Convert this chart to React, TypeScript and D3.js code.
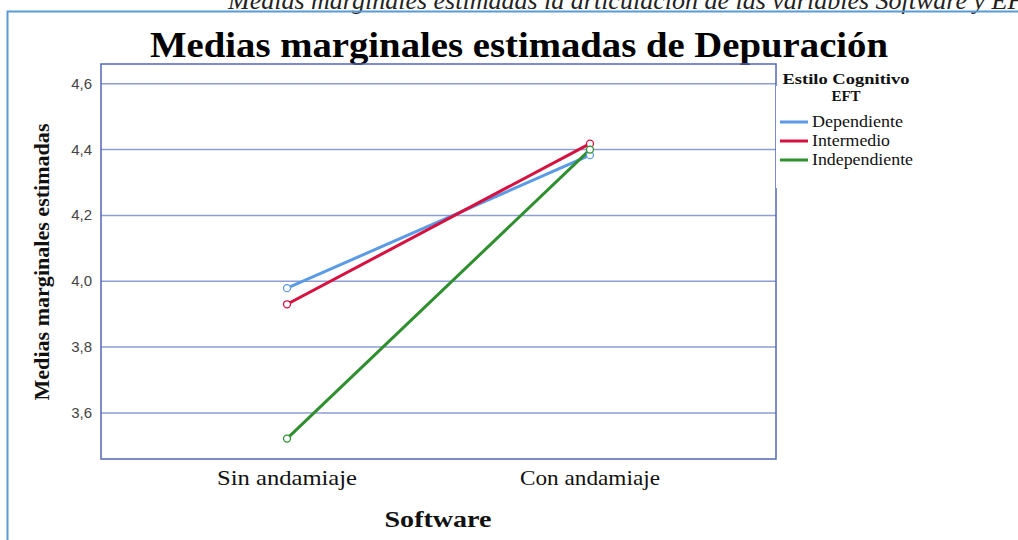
import React from "react";
import * as d3 from "d3";

const categories = ["Sin andamiaje", "Con andamiaje"];
const seriesNames = ["Dependiente", "Intermedio", "Independiente"];
const dependiente = [3.979, 4.383];
const intermedio = [3.93, 4.418];
const independiente = [3.522, 4.4];
const seriesColors = ["#5b9be6", "#d6103f", "#2f8f2f"];
const yTicks = [3.6, 3.8, 4.0, 4.2, 4.4, 4.6];

const W = 1018;
const H = 540;
const plot = { left: 101, top: 64, right: 776, bottom: 459 };

export default function App() {
  const x = d3
    .scalePoint<string>()
    .domain(categories)
    .range([plot.left, plot.right])
    .padding(0.614);
  const y = d3.scaleLinear().domain([3.46, 4.66]).range([plot.bottom, plot.top]);
  const series = [dependiente, intermedio, independiente];
  const line = d3
    .line<number>()
    .x((_, i) => x(categories[i]) as number)
    .y((d) => y(d));
  const fmt = (v: number) => d3.format(".1f")(v).replace(".", ",");
  const serif = "'Liberation Serif', 'Times New Roman', serif";
  const sans = "'Liberation Sans', Arial, sans-serif";
  const legendLens = [91, 78, 101];

  return (
    <div style={{ position: "fixed", left: 0, top: 0 }}>
      <svg width={W} height={H} style={{ display: "block", background: "#fff" }}>
        <text
          x={228}
          y={9}
          fontFamily={serif}
          fontStyle="italic"
          fontSize={26}
          fill="#222"
        >
          Medias marginales estimadas la articulación de las variables Software y EFT
        </text>
        {/* frame */}
        <path d={`M7.5,${H} V11.5 H${W}`} fill="none" stroke="#5b9bd5" strokeWidth={2} />
        <text
          x={519}
          y={57}
          textAnchor="middle"
          fontFamily={serif}
          fontWeight="bold"
          fontSize={35}
          textLength={738}
          lengthAdjust="spacingAndGlyphs"
          fill="#000"
        >
          Medias marginales estimadas de Depuración
        </text>
        {/* gridlines */}
        {yTicks.map((t) => (
          <line
            key={t}
            x1={plot.left}
            x2={plot.right}
            y1={y(t)}
            y2={y(t)}
            stroke="#8d9ed0"
            strokeWidth={1.5}
          />
        ))}
        <rect
          x={plot.left}
          y={plot.top}
          width={plot.right - plot.left}
          height={plot.bottom - plot.top}
          fill="none"
          stroke="#5567b5"
          strokeWidth={1.5}
        />
        {yTicks.map((t) => (
          <text
            key={t}
            x={92}
            y={y(t) + 5}
            textAnchor="end"
            fontFamily={sans}
            fontSize={15}
            fill="#444"
          >
            {fmt(t)}
          </text>
        ))}
        {series.map((s, i) => (
          <path
            key={seriesNames[i]}
            d={line(s) || ""}
            fill="none"
            stroke={seriesColors[i]}
            strokeWidth={3}
          />
        ))}
        {series.map((s, i) =>
          s.map((v, j) => (
            <circle
              key={seriesNames[i] + j}
              cx={x(categories[j]) as number}
              cy={y(v)}
              r={3.5}
              fill="#fff"
              stroke={seriesColors[i]}
              strokeWidth={1.3}
            />
          ))
        )}
        {categories.map((c) => (
          <text
            key={c}
            x={x(c) as number}
            y={485}
            textAnchor="middle"
            fontFamily={serif}
            fontSize={22}
            textLength={140}
            lengthAdjust="spacingAndGlyphs"
            fill="#111"
          >
            {c}
          </text>
        ))}
        <text
          x={438}
          y={527}
          textAnchor="middle"
          fontFamily={serif}
          fontWeight="bold"
          fontSize={24}
          textLength={107}
          lengthAdjust="spacingAndGlyphs"
          fill="#111"
        >
          Software
        </text>
        <text
          transform={`translate(49,262) rotate(-90)`}
          textAnchor="middle"
          fontFamily={serif}
          fontWeight="bold"
          fontSize={21}
          textLength={277}
          lengthAdjust="spacingAndGlyphs"
          fill="#111"
        >
          Medias marginales estimadas
        </text>
        {/* legend */}
        <rect x={776} y={86} width={200} height={102} fill="#fff" />
        <text x={846} y={84} textAnchor="middle" fontFamily={serif} fontWeight="bold" fontSize={15} textLength={127} lengthAdjust="spacingAndGlyphs" fill="#111">
          Estilo Cognitivo
        </text>
        <text x={846} y={101} textAnchor="middle" fontFamily={serif} fontWeight="bold" fontSize={15} fill="#111">
          EFT
        </text>
        {seriesNames.map((n, i) => (
          <g key={n} transform={`translate(780,${122 + i * 19})`}>
            <line x1={0} x2={28} y1={0} y2={0} stroke={seriesColors[i]} strokeWidth={3} />
            <text x={32} y={5} fontFamily={serif} fontSize={16} textLength={legendLens[i]} lengthAdjust="spacingAndGlyphs" fill="#111">
              {n}
            </text>
          </g>
        ))}
      </svg>
    </div>
  );
}
